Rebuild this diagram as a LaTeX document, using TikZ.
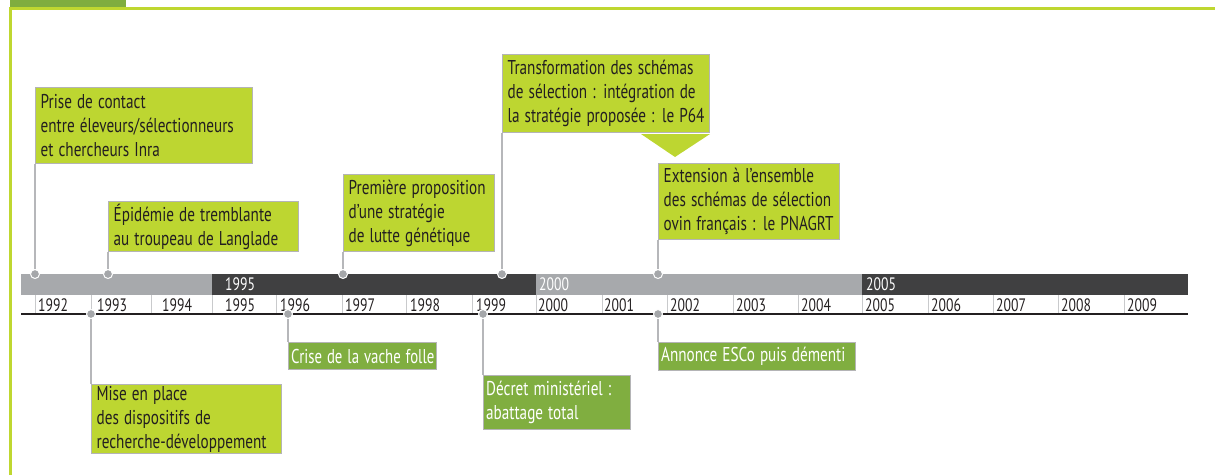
\documentclass[tikz,border=0pt]{standalone}
\usepackage{fontspec}
\setmainfont{PT Sans}
\definecolor{lime}{HTML}{BDD631}
\definecolor{leaf}{HTML}{80AE40}
\definecolor{framegreen}{HTML}{BFD730}
\definecolor{tabgreen}{HTML}{7FAD3F}
\definecolor{barlight}{HTML}{A7A9AC}
\definecolor{bardark}{HTML}{404041}
\definecolor{boxgray}{HTML}{B4B4B6}
\definecolor{linegray}{HTML}{B6B7BA}
\definecolor{dotgray}{HTML}{A5A7AA}
\definecolor{txt}{HTML}{231F20}
\definecolor{sepgray}{HTML}{C9CACC}
\newcommand{\evfont}{\fontsize{20}{24}\selectfont}
\newcommand{\yrfont}{\fontsize{18}{20}\selectfont}
\newcommand{\tline}[1]{\scalebox{0.76}[1]{#1}}
\newcommand{\tlinen}[1]{\scalebox{0.74}[1]{#1}}
\begin{document}
\begin{tikzpicture}[x=1pt,y=-1pt,
  evbox/.style={draw=boxgray, line width=1.3pt, fill=lime, text=txt, font=\evfont,
    align=left, inner xsep=5pt, inner ysep=0pt, anchor=north west},
  evdark/.style={evbox, fill=leaf, text=white, inner xsep=2.5pt},
  evdot/.style={circle, fill=dotgray, draw=white, line width=1pt, minimum size=9pt, inner sep=0pt},
  conn/.style={draw=linegray, line width=1.4pt},
  yr/.style={font=\yrfont, text=txt, anchor=base west, inner sep=0pt},
  baryr/.style={font=\yrfont, text=white, anchor=base west, inner sep=0pt}]
\useasboundingbox (0,0) rectangle (1215,475);
% frame
\fill[tabgreen] (10,0) rectangle (126,7);
\draw[framegreen, line width=3pt] (10,475) -- (10,8.5) -- (1215,8.5);
% timeline bar
\fill[barlight] (21,274) rectangle (212,295);
\fill[bardark] (212,274) rectangle (536,295);
\fill[barlight] (536,274) rectangle (862,295);
\fill[bardark] (862,274) rectangle (1188,295);
\node[baryr] (b95) at (225,290.5) {\tline{1995}};
\node[baryr] (b00) at (539,290.5) {\tline{2000}};
\node[baryr] (b05) at (866,290.5) {\tline{2005}};
% year cells
\foreach \s/\t/\y in {35/38/1992, 91/97/1993, 151/162/1994, 212/225/1995, 276/280/1996,
  342/345/1997, 406/410/1998, 472/476/1999, 536/538/2000, 602/604/2001, 667/670/2002,
  733/736/2003, 798/801/2004, 862/865/2005, 928/931/2006, 993/996/2007, 1058/1061/2008, 1124/1127/2009}{
  \draw[sepgray, line width=1pt] (\s,295) -- (\s,313);
  \node[yr] (y\y) at (\t,311.5) {\tline{\y}};
}
\draw[txt, line width=2pt] (21,314) -- (1188,314);
% event boxes above
\node[evbox, text width=207pt, minimum height=76pt] (e1) at (35,87)
  {\tline{Prise de contact}\\\tline{entre éleveurs/sélectionneurs}\\\tline{et chercheurs Inra}};
\node[evbox, text width=180pt, minimum height=50pt] (e2) at (108,201)
  {\tline{Épidémie de tremblante}\\\tline{au troupeau de Langlade}};
\node[evbox, text width=141pt, minimum height=77pt] (e3) at (343,174)
  {\tline{Première proposition}\\\tline{d’une stratégie}\\\tline{de lutte génétique}};
\node[evbox, text width=197pt, minimum height=78pt] (e4) at (502,54)
  {\tline{Transformation des schémas}\\\tline{de sélection : intégration de}\\\tline{la stratégie proposée : le P64}};
\node[evbox, text width=171pt, minimum height=76pt] (e5) at (658,163)
  {\tline{Extension à l’ensemble}\\\tline{des schémas de sélection}\\\tline{ovin français : le PNAGRT}};
\fill[lime] (641,134) -- (710,134) -- (675,157) -- cycle;
% event boxes below
\node[evbox, text width=180pt, minimum height=69pt] (e6) at (91,384)
  {\tline{Mise en place}\\\tline{des dispositifs de}\\\tline{recherche-développement}};
\node[evdark, text width=143pt, minimum height=27pt] (e7) at (288,342)
  {\tlinen{Crise de la vache folle}};
\node[evdark, text width=142pt, minimum height=54pt] (e8) at (483,375)
  {\tline{Décret ministériel :}\\\tline{abattage total}};
\node[evdark, text width=192pt, minimum height=28pt] (e9) at (658,342)
  {\tline{Annonce ESCo puis démenti}};
% dots
\node[evdot] (d1) at (35,274) {};
\node[evdot] (d2) at (108,274) {};
\node[evdot] (d3) at (343,274) {};
\node[evdot] (d4) at (502,274) {};
\node[evdot] (d5) at (658,274) {};
\node[evdot] (d6) at (91,314) {};
\node[evdot] (d7) at (288,314) {};
\node[evdot] (d8) at (483,314) {};
\node[evdot] (d9) at (658,314) {};
% connectors
\foreach \i in {1,...,5}{\draw[conn] (e\i.south west) -- (d\i);}
\foreach \i in {6,...,9}{\draw[conn] (e\i.north west) -- (d\i);}
\end{tikzpicture}
\end{document}
